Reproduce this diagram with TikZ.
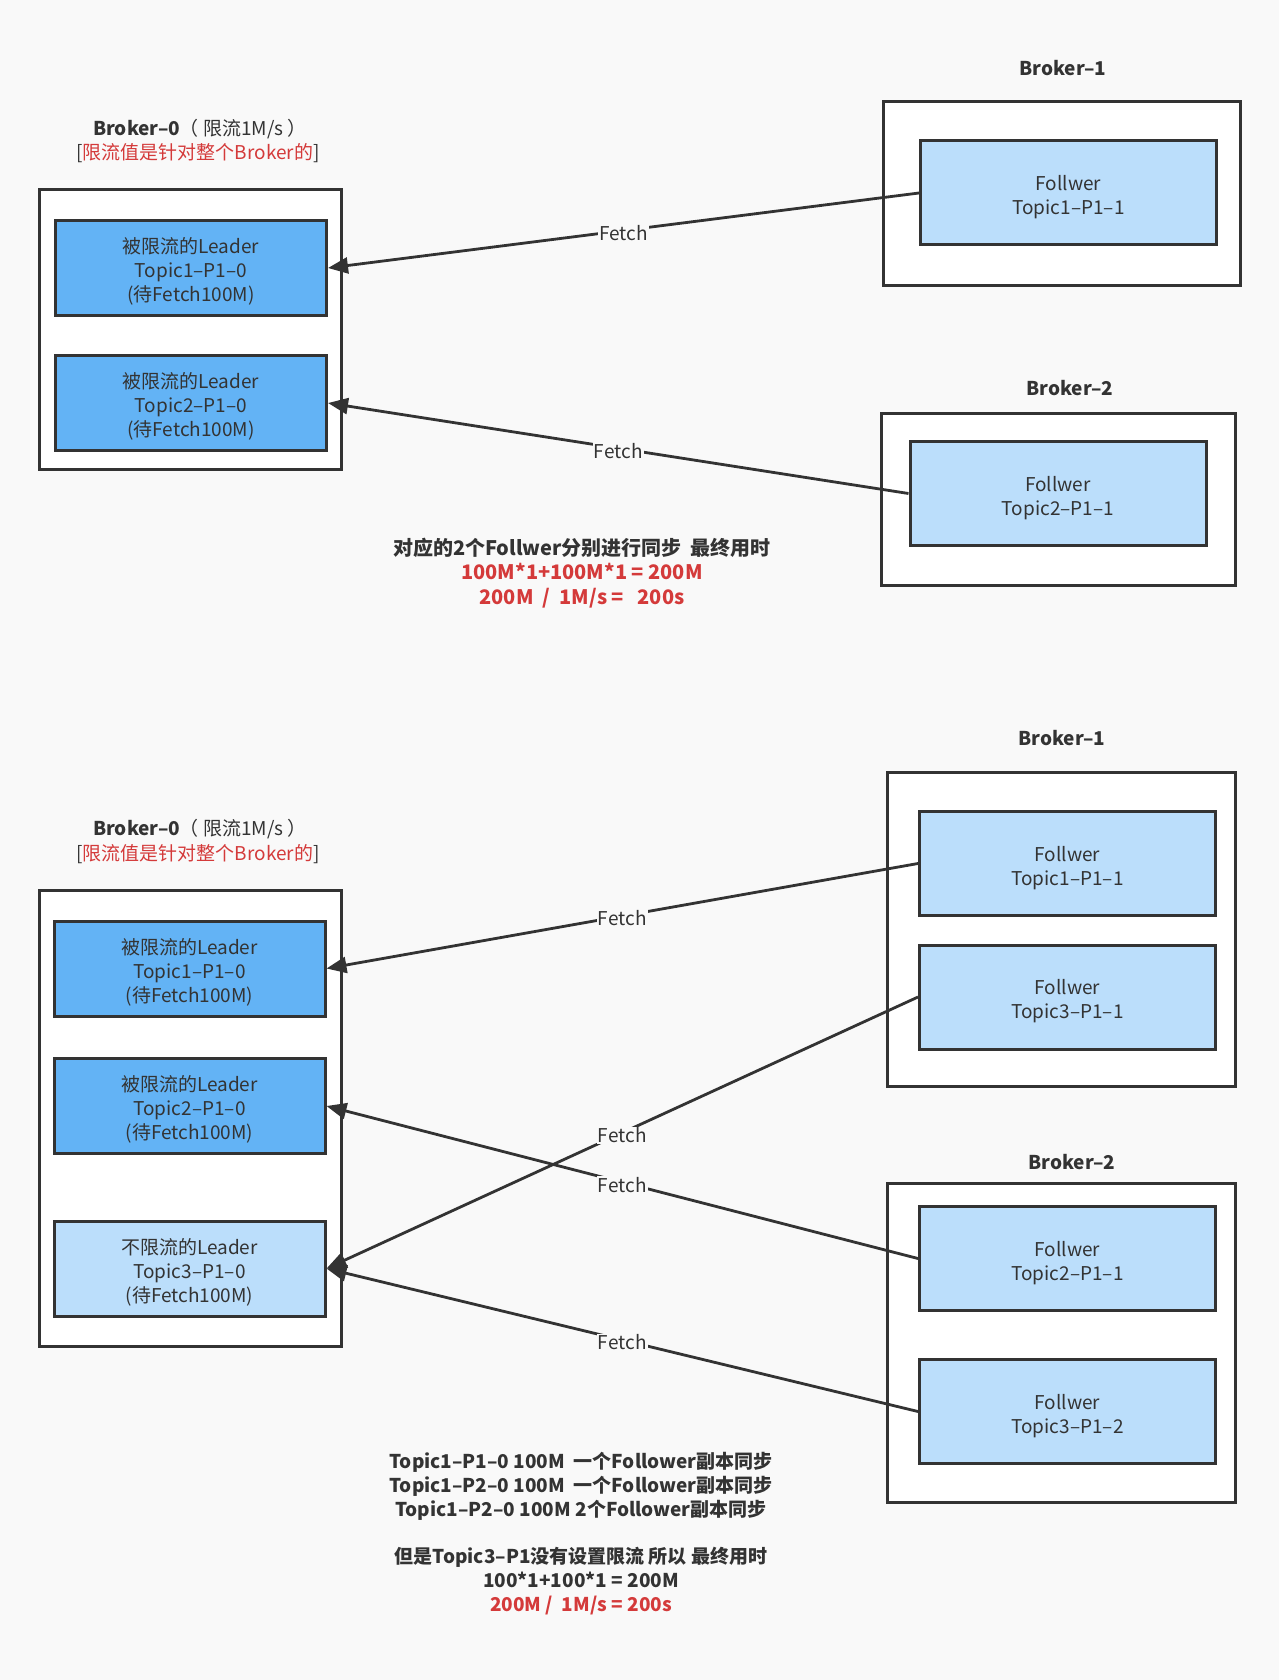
\documentclass[tikz,border=0pt]{standalone}
\usepackage{fontspec}
\setmainfont{Noto Sans CJK SC}
\usetikzlibrary{arrows.meta}
\definecolor{bg}{HTML}{F9F9F9}
\definecolor{ln}{HTML}{333333}
\definecolor{txt}{HTML}{333333}
\definecolor{lblue}{HTML}{63B3F5}
\definecolor{fblue}{HTML}{BBDEFB}
\definecolor{hl}{HTML}{D43A3A}
\newcommand\myfs{\fontsize{19}{24}\selectfont}
\begin{document}
\begin{tikzpicture}[x=1pt,y=-1pt,
  broker/.style={draw=ln, line width=3pt, fill=white, inner sep=0pt},
  boxtext/.style={align=center, font=\myfs, text=txt, inner sep=0pt},
  leader/.style={draw=ln, line width=3pt, fill=lblue, inner sep=0pt, minimum width=271pt, minimum height=95pt, label={[boxtext, yshift=-3.5pt]center:#1}},
  freeleader/.style={leader={#1}, fill=fblue},
  follower/.style={draw=ln, line width=3pt, fill=fblue, inner sep=0pt, minimum width=296pt, minimum height=104pt, label={[boxtext, yshift=-4.5pt]center:#1}},
  title/.style={text=txt, font=\myfs, inner sep=0pt},
  note/.style={text=txt, font=\myfs\bfseries, align=center, inner sep=0pt},
  fetch/.style={draw=ln, line width=2.8pt, -{Triangle[length=20pt,width=16pt]}},
  flabel/.style={fill=bg, text=txt, font=\myfs, inner sep=1pt, yshift=-2.5pt}
]
\useasboundingbox[fill=bg] (0,0) rectangle (1279,1680);

% ================= TOP =================
\node[title] (t0a) at (200,129) {\textbf{Broker–0}（ 限流1M/s ）};
\node[title] (t0b) at (198,153) {[\textcolor{hl}{限流值是针对整个Broker的}]};
\node[broker, minimum width=302pt, minimum height=280pt] (b0) at (190.5,329.5) {};
\node[leader={被限流的Leader\\Topic1–P1–0\\(待Fetch100M)}] (l1) at (191,268) {};
\node[leader={被限流的Leader\\Topic2–P1–0\\(待Fetch100M)}] (l2) at (191,403) {};

\node[title] (t1) at (1063,68) {\textbf{Broker–1}};
\node[broker, minimum width=357pt, minimum height=184pt] (b1) at (1062,193.5) {};
\node[follower={Follwer\\Topic1–P1–1}] (f1) at (1068.5,193) {};

\node[title] (t2) at (1070,388) {\textbf{Broker–2}};
\node[broker, minimum width=354pt, minimum height=172pt] (b2) at (1058.5,499.5) {};
\node[follower={Follwer\\Topic2–P1–1}] (f2) at (1058,493.5) {};

\draw[fetch] (f1.west) -- node[flabel] {Fetch} (l1.east);
\draw[fetch] (f2.west) -- node[flabel] {Fetch} (l2.east);

\node[note, font=\fontsize{20}{24.5}\selectfont\bfseries] (n1) at (582,573) {对应的2个Follwer分别进行同步\ \ 最终用时\\
\textcolor{hl}{100M*1+100M*1 = 200M}\\
\textcolor{hl}{200M\ \ /\ \ 1M/s =\ \ \ 200s}};

% ================= BOTTOM =================
\node[title] (s0a) at (200,829) {\textbf{Broker–0}（ 限流1M/s ）};
\node[title] (s0b) at (198,854) {[\textcolor{hl}{限流值是针对整个Broker的}]};
\node[broker, minimum width=302pt, minimum height=456pt] (c0) at (190,1118.5) {};
\node[leader={被限流的Leader\\Topic1–P1–0\\(待Fetch100M)}] (m1) at (189.5,968.5) {};
\node[leader={被限流的Leader\\Topic2–P1–0\\(待Fetch100M)}] (m2) at (189.5,1106) {};
\node[freeleader={不限流的Leader\\Topic3–P1–0\\(待Fetch100M)}] (m3) at (189.5,1268.5) {};

\node[title] (s1) at (1062,738) {\textbf{Broker–1}};
\node[broker, minimum width=348pt, minimum height=314pt] (c1) at (1061.5,929.5) {};
\node[follower={Follwer\\Topic1–P1–1}] (g1) at (1067.5,863.5) {};
\node[follower={Follwer\\Topic3–P1–1}] (g2) at (1067.5,997) {};

\node[title] (s2) at (1072,1162) {\textbf{Broker–2}};
\node[broker, minimum width=348pt, minimum height=319pt] (c2) at (1061.5,1343) {};
\node[follower={Follwer\\Topic2–P1–1}] (g3) at (1067.5,1258.5) {};
\node[follower={Follwer\\Topic3–P1–2}] (g4) at (1067.5,1411.5) {};

\draw[fetch] (g1.west) -- node[flabel] {Fetch} (m1.east);
\draw[fetch] (g2.west) -- node[flabel] {Fetch} (m3.east);
\draw[fetch] (g3.west) -- node[flabel] {Fetch} (m2.east);
\draw[fetch] (g4.west) -- node[flabel] {Fetch} (m3.east);

\node[note, font=\fontsize{19}{23.8}\selectfont\bfseries] (n2) at (581,1533.5) {Topic1–P1–0 100M\ \ 一个Follower副本同步\\
Topic1–P2–0 100M\ \ 一个Follower副本同步\\
Topic1–P2–0 100M 2个Follower副本同步\\
\mbox{}\\
但是Topic3–P1没有设置限流 所以 最终用时\\
100*1+100*1 = 200M\\
\textcolor{hl}{200M /\ \ 1M/s = 200s}};
\end{tikzpicture}
\end{document}
